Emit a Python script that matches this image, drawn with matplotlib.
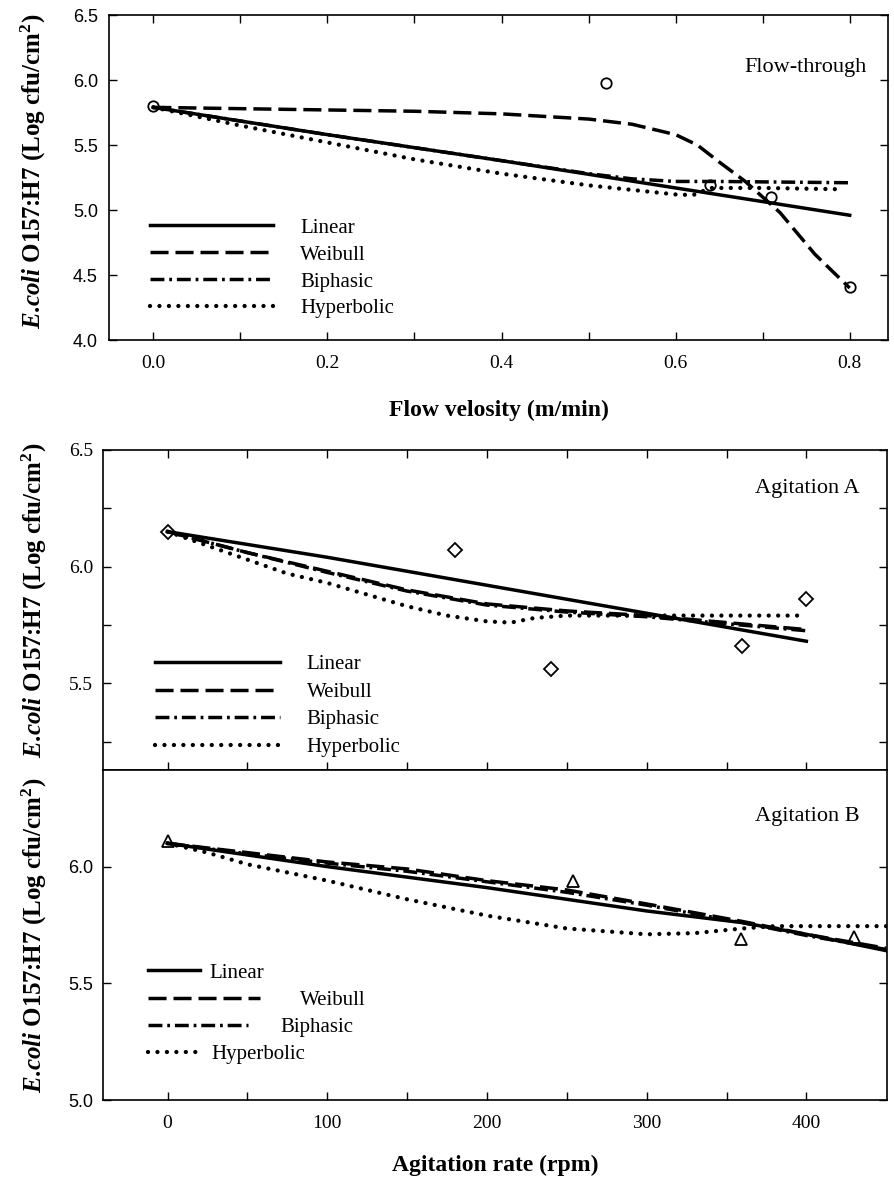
import matplotlib
matplotlib.use('Agg')
import matplotlib.pyplot as plt
from matplotlib.lines import Line2D
from matplotlib.legend import Legend

plt.rcParams['font.family'] = 'Liberation Serif'
plt.rcParams['mathtext.fontset'] = 'custom'
plt.rcParams['mathtext.rm'] = 'Liberation Serif:bold'
plt.rcParams['mathtext.bf'] = 'Liberation Serif:bold'
plt.rcParams['mathtext.it'] = 'Liberation Serif:italic:bold'
plt.rcParams['lines.scale_dashes'] = False

# ---- Flow-through data ----
flow_obs_x = [0.0, 0.52, 0.64, 0.71, 0.80]
flow_obs_y = [5.80, 5.98, 5.19, 5.10, 4.41]

flow_lin_x = [0.0, 0.2, 0.4, 0.6, 0.8]
flow_lin_y = [5.79, 5.58, 5.38, 5.17, 4.96]

flow_wei_x = [0.0, 0.1, 0.2, 0.3, 0.4, 0.5, 0.55, 0.6, 0.625, 0.65, 0.68, 0.72, 0.76, 0.8]
flow_wei_y = [5.79, 5.78, 5.77, 5.76, 5.74, 5.70, 5.66, 5.58, 5.50, 5.37, 5.22, 4.98, 4.66, 4.40]

flow_bip_x = [0.0, 0.2, 0.4, 0.5, 0.55, 0.6, 0.65, 0.8]
flow_bip_y = [5.79, 5.58, 5.38, 5.28, 5.24, 5.22, 5.22, 5.21]

flow_hyp_x = [0.0, 0.1, 0.2, 0.3, 0.4, 0.5, 0.6, 0.62, 0.64, 0.7, 0.79]
flow_hyp_y = [5.79, 5.65, 5.52, 5.39, 5.28, 5.19, 5.12, 5.115, 5.17, 5.17, 5.16]

# ---- Agitation A data ----
agA_obs_x = [0, 180, 240, 360, 400]
agA_obs_y = [6.15, 6.07, 5.56, 5.66, 5.86]

agA_lin_x = [0, 100, 200, 300, 400]
agA_lin_y = [6.15, 6.04, 5.92, 5.80, 5.68]

agA_wei_x = [0, 50, 100, 150, 200, 250, 300, 350, 400]
agA_wei_y = [6.15, 6.06, 5.98, 5.90, 5.84, 5.81, 5.79, 5.76, 5.73]

agA_bip_x = [0, 50, 100, 150, 200, 250, 300, 350, 400]
agA_bip_y = [6.15, 6.06, 5.975, 5.895, 5.835, 5.805, 5.785, 5.755, 5.725]

agA_hyp_x = [0, 25, 50, 75, 100, 125, 150, 175, 200, 215, 230, 250, 300, 400]
agA_hyp_y = [6.15, 6.09, 6.03, 5.97, 5.93, 5.88, 5.83, 5.79, 5.765, 5.76, 5.78, 5.79, 5.79, 5.79]

# ---- Agitation B data ----
agB_obs_x = [0, 254, 359, 430]
agB_obs_y = [6.11, 5.94, 5.69, 5.70]

agB_lin_x = [0, 100, 200, 250, 300, 360, 400, 450]
agB_lin_y = [6.10, 6.00, 5.91, 5.86, 5.81, 5.76, 5.71, 5.64]

agB_wei_x = [0, 50, 100, 150, 200, 250, 300, 360, 400, 450]
agB_wei_y = [6.10, 6.06, 6.02, 5.99, 5.94, 5.90, 5.84, 5.765, 5.71, 5.65]

agB_bip_x = [0, 50, 100, 150, 200, 250, 300, 360, 400, 450]
agB_bip_y = [6.10, 6.055, 6.015, 5.98, 5.935, 5.89, 5.835, 5.76, 5.705, 5.645]

agB_hyp_x = [0, 25, 50, 100, 150, 200, 250, 300, 330, 360, 380, 450]
agB_hyp_y = [6.10, 6.06, 6.01, 5.94, 5.86, 5.79, 5.735, 5.71, 5.715, 5.735, 5.745, 5.745]

labels = ['Linear', 'Weibull', 'Biphasic', 'Hyperbolic']

LW = 2.5
styles = [
    dict(color='black', lw=LW, ls='-'),
    dict(color='black', lw=LW, dashes=(13, 5)),
    dict(color='black', lw=LW, dashes=(10, 3.5, 2, 3.5)),
    dict(color='black', lw=3.1, dashes=(0.01, 6.8), dash_capstyle='round'),
]

# the dot is kept out of mathtext so no extra space follows it
ylab = r'$\mathit{E}$.$\mathit{coli}$ O157:H7 (Log cfu/cm$^{2}$)'


def style_axes(ax):
    for s in ax.spines.values():
        s.set_linewidth(1.2)
    ax.tick_params(which='both', direction='in', length=6, width=1.0,
                   top=True, right=True)


fig = plt.figure(figsize=(8.94, 11.77), dpi=100)

# ---------------- top panel ----------------
ax1 = fig.add_axes([0.1219, 0.7111, 0.8714, 0.2761])
series = [(flow_lin_x, flow_lin_y), (flow_wei_x, flow_wei_y),
          (flow_bip_x, flow_bip_y), (flow_hyp_x, flow_hyp_y)]
for (xs, ys), st in zip(series, styles):
    ax1.plot(xs, ys, **st)
ax1.plot(flow_obs_x, flow_obs_y, 'o', mfc='none', mec='black', ms=7.5, mew=1.3)
ax1.set_xlim(-0.051, 0.844)
ax1.set_ylim(4.0, 6.5)
ax1.set_xticks([0.0, 0.2, 0.4, 0.6, 0.8])
ax1.set_xticks([0.1, 0.3, 0.5, 0.7], minor=True)
ax1.set_yticks([4.0, 4.5, 5.0, 5.5, 6.0, 6.5])
ax1.set_xticklabels(['0.0', '0.2', '0.4', '0.6', '0.8'])
ax1.set_yticklabels(['4.0', '4.5', '5.0', '5.5', '6.0', '6.5'])
style_axes(ax1)
ax1.tick_params(axis='x', which='both', pad=11, labelsize=14)
ax1.tick_params(axis='y', pad=8, labelsize=13, labelfontfamily='Liberation Sans')
ax1.set_xlabel('Flow velosity (m/min)', fontsize=17, fontweight='bold', labelpad=20)
ax1.set_ylabel(ylab, fontsize=18, fontweight='bold')
ax1.yaxis.set_label_coords(-0.078, 0.52)
ax1.text(0.972, 0.84, 'Flow-through', transform=ax1.transAxes, ha='right',
         va='center', fontsize=16)
h1 = [Line2D([], [], **st) for st in styles]
ax1.legend(h1, labels, loc='upper left', bbox_to_anchor=(0.053, 0.375),
           frameon=False, fontsize=15, handlelength=5.9, handletextpad=1.3,
           labelspacing=0.35, borderpad=0, borderaxespad=0)

# ---------------- middle panel ----------------
ax2 = fig.add_axes([0.1152, 0.3458, 0.877, 0.2719])
series = [(agA_lin_x, agA_lin_y), (agA_wei_x, agA_wei_y),
          (agA_bip_x, agA_bip_y), (agA_hyp_x, agA_hyp_y)]
for (xs, ys), st in zip(series, styles):
    ax2.plot(xs, ys, **st)
ax2.plot(agA_obs_x, agA_obs_y, 'D', mfc='none', mec='black', ms=7.5, mew=1.3)
ax2.set_xlim(-40.4, 450.5)
ax2.set_ylim(5.128, 6.5)
ax2.set_xticks([0, 100, 200, 300, 400])
ax2.set_xticks([50, 150, 250, 350], minor=True)
ax2.set_yticks([5.5, 6.0, 6.5])
ax2.set_yticks([5.25, 5.75, 6.25], minor=True)
ax2.set_yticklabels(['5.5', '6.0', '6.5'])
style_axes(ax2)
ax2.tick_params(axis='x', which='both', labelbottom=False)
ax2.tick_params(axis='y', pad=7, labelsize=14)
ax2.set_ylabel(ylab, fontsize=18, fontweight='bold')
ax2.yaxis.set_label_coords(-0.069, 0.53)
ax2.text(0.965, 0.88, 'Agitation A', transform=ax2.transAxes, ha='right',
         va='center', fontsize=16)
h2 = [Line2D([], [], **st) for st in styles]
ax2.legend(h2, labels, loc='upper left', bbox_to_anchor=(0.066, 0.36),
           frameon=False, fontsize=15, handlelength=6.0, handletextpad=1.3,
           labelspacing=0.38, borderpad=0, borderaxespad=0)

# ---------------- bottom panel ----------------
ax3 = fig.add_axes([0.1152, 0.0654, 0.877, 0.2804])
series = [(agB_lin_x, agB_lin_y), (agB_wei_x, agB_wei_y),
          (agB_bip_x, agB_bip_y), (agB_hyp_x, agB_hyp_y)]
for (xs, ys), st in zip(series, styles):
    ax3.plot(xs, ys, **st)
ax3.plot(agB_obs_x, agB_obs_y, '^', mfc='none', mec='black', ms=9, mew=1.3)
ax3.set_xlim(-40.4, 450.5)
ax3.set_ylim(5.0, 6.414)
ax3.set_xticks([0, 100, 200, 300, 400])
ax3.set_xticks([50, 150, 250, 350], minor=True)
ax3.set_yticks([5.0, 5.5, 6.0])
ax3.set_xticklabels(['0', '100', '200', '300', '400'])
ax3.set_yticklabels(['5.0', '5.5', '6.0'])
style_axes(ax3)
ax3.tick_params(which='both', top=False)
ax3.tick_params(axis='x', which='both', pad=11, labelsize=14)
ax3.tick_params(axis='y', pad=7, labelsize=13, labelfontfamily='Liberation Sans')
ax3.set_xlabel('Agitation rate (rpm)', fontsize=17, fontweight='bold', labelpad=16)
ax3.set_ylabel(ylab, fontsize=18, fontweight='bold')
ax3.yaxis.set_label_coords(-0.069, 0.5)
ax3.text(0.965, 0.86, 'Agitation B', transform=ax3.transAxes, ha='right',
         va='center', fontsize=16)

# bottom legend: each entry has its own sample length
b_len = [2.5, 5.4, 4.8, 2.6]
b_pad = [0.45, 1.9, 1.55, 0.45]
b_y = [0.385, 0.301, 0.22, 0.139]
for lab, st, hl, hp, yc in zip(labels, styles, b_len, b_pad, b_y):
    leg = Legend(ax3, [Line2D([], [], **st)], [lab], loc='center left',
                 bbox_to_anchor=(0.057, yc), frameon=False, fontsize=15,
                 handlelength=hl, handletextpad=hp, borderpad=0,
                 borderaxespad=0)
    ax3.add_artist(leg)

fig.savefig('out.png', dpi=100)
